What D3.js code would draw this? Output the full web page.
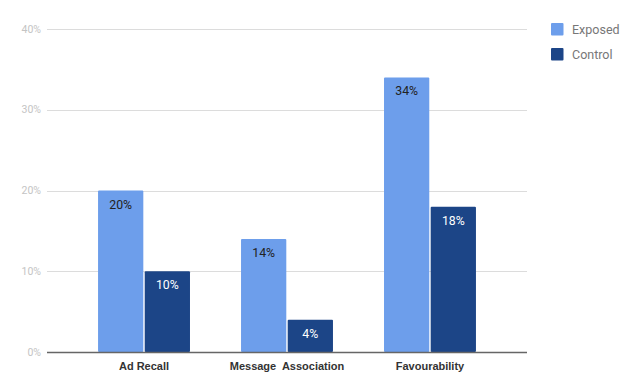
<!DOCTYPE html>
<html><head><meta charset="utf-8">
<script src="https://cdn.jsdelivr.net/npm/d3@7"></script>
<style>body{margin:0;background:#fff;font-family:Roboto,"Liberation Sans",Arial,sans-serif}</style>
</head><body><svg id="c" width="637" height="383"></svg>
<script>
const categories = ["Ad Recall", "Message  Association", "Favourability"];
const seriesNames = ["Exposed", "Control"];
const exposed = [20, 14, 34];
const control = [10, 4, 18];
const yTicks = [0, 10, 20, 30, 40];
const colors = ["#6d9eeb", "#1c4587"];
const labelColors = ["#222222", "#ffffff"];

(function () {
const svg = d3.select("#c");
const pL = 47, pR = 527, pT = 29, pB = 352;
const x = d3.scaleBand().domain(categories).range([pL, pR]).paddingInner(0.357).paddingOuter(0.357);
const xi = d3.scaleBand().domain(seriesNames).range([0, x.bandwidth()]).paddingInner(0.03);
const y = d3.scaleLinear().domain([0, 40]).range([pB, pT]);

// gridlines
svg.append("g").selectAll("line").data(yTicks.filter(d => d > 0)).join("line")
  .attr("x1", pL).attr("x2", pR)
  .attr("y1", d => Math.round(y(d)) + 0.5).attr("y2", d => Math.round(y(d)) + 0.5)
  .attr("stroke", "#dcdcdc").attr("stroke-width", 1);

// y labels
svg.append("g").selectAll("text").data(yTicks).join("text")
  .attr("x", 41).attr("y", d => y(d) + 3.5)
  .attr("text-anchor", "end").attr("font-size", 10.5).attr("fill", "#c4c4c4")
  .attr("font-family", "Roboto, sans-serif")
  .text(d => d + "%");

const data = categories.map((c, i) => ({ c, vals: [exposed[i], control[i]] }));
const groups = svg.append("g").selectAll("g").data(data).join("g")
  .attr("transform", d => `translate(${x(d.c)},0)`);

groups.selectAll("rect").data(d => d.vals.map((v, k) => ({ v, k }))).join("rect")
  .attr("x", d => xi(seriesNames[d.k])).attr("width", xi.bandwidth())
  .attr("y", d => y(d.v)).attr("height", d => y(0) - y(d.v))
  .attr("fill", d => colors[d.k]).attr("rx", 1);

groups.selectAll("text").data(d => d.vals.map((v, k) => ({ v, k }))).join("text")
  .attr("x", d => xi(seriesNames[d.k]) + xi.bandwidth() / 2)
  .attr("y", d => y(d.v) + 18)
  .attr("text-anchor", "middle").attr("font-size", 12.3)
  .attr("fill", d => labelColors[d.k])
  .attr("font-family", "Roboto, sans-serif")
  .text(d => d.v + "%");

// baseline
svg.append("line").attr("x1", pL).attr("x2", pR)
  .attr("y1", y(0) + 0.5).attr("y2", y(0) + 0.5)
  .attr("stroke", "#666").attr("stroke-width", 1.5);

// x labels
svg.append("g").selectAll("text").data(categories).join("text")
  .attr("x", d => x(d) + x.bandwidth() / 2).attr("y", 370)
  .attr("text-anchor", "middle").attr("font-size", 11).attr("font-weight", "bold")
  .attr("fill", "#333").attr("font-family", "Arial, 'Liberation Sans', sans-serif")
  .style("white-space", "pre")
  .text(d => d);

// legend
const lg = svg.append("g").selectAll("g").data(seriesNames).join("g")
  .attr("transform", (d, i) => `translate(551,${23 + i * 25})`);
lg.append("rect").attr("width", 12.5).attr("height", 12.5).attr("rx", 1)
  .attr("fill", (d, i) => colors[i]);
lg.append("text").attr("x", 21).attr("y", 10.5).attr("font-size", 12.5)
  .attr("fill", "#777").attr("font-family", "Roboto, sans-serif").text(d => d);
})();
</script></body></html>
